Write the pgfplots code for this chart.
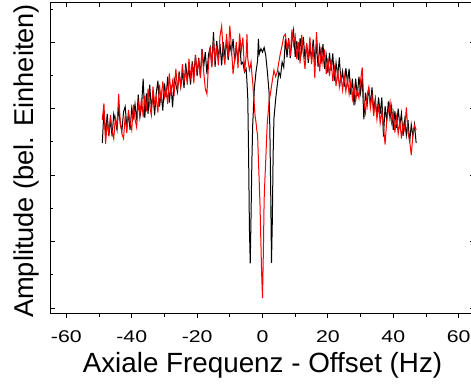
\documentclass[border=0pt]{standalone}
\usepackage{fontspec}
\setmainfont{Liberation Sans}
\usepackage{pgfplots}
\pgfplotsset{compat=1.18}
\begin{document}
\begin{tikzpicture}
\begin{axis}[name=ax,
  scale only axis, width=425pt, height=311pt,
  xmin=-65, xmax=65, ymin=-0.08, ymax=4.60,
  axis line style={line width=0.8pt},
  every tick/.style={line width=0.8pt, black},
  major tick length=5pt, minor tick length=3.5pt,
  xtick={-60,-40,...,60}, minor xtick={-50,-30,...,50},
  xtick pos=bottom, xtick align=outside,
  ytick={0,1,2,3,4}, minor ytick={0.5,1.5,2.5,3.5,4.5},
  yticklabels={}, ytick pos=both, ytick align=inside,
  /pgf/number format/assume math mode=true,
  xticklabel style={font=\fontsize{17}{20}\selectfont, xscale=1.25, anchor=base, yshift=-24.4pt},
  xlabel={Axiale Frequenz - Offset (Hz)},
  ylabel={Amplitude (bel. Einheiten)},
  xlabel style={font=\fontsize{27.8}{32}\selectfont, at={(axis description cs:0.5,-0.191)}, anchor=base},
  ylabel style={font=\fontsize{27.2}{32}\selectfont, at={(axis description cs:-0.04,0.49)}, anchor=base},
]
\addplot[black, line width=1pt] coordinates {
(-49,2.48)(-48.5,2.98)(-48,2.60)(-47.5,2.92)(-47,2.59)(-46.5,2.84)(-46,2.58)(-45.5,2.92)(-45,2.81)(-44.5,2.68)
(-44,3.02)(-43.5,2.77)(-43,2.67)(-42.5,2.95)(-42,3.03)(-41.5,2.73)(-41,2.91)(-40.5,2.68)(-40,3.01)(-39.5,2.87)
(-39,3.07)(-38.5,2.82)(-38,3.21)(-37.5,2.87)(-37,3.03)(-36.5,3.45)(-36,2.86)(-35.5,3.23)(-35,2.92)(-34.5,3.36)
(-34,3.00)(-33.5,3.23)(-33,2.90)(-32.5,3.23)(-32,3.42)(-31.5,3.03)(-31,3.23)(-30.5,2.97)(-30,3.38)(-29.5,3.17)
(-29,3.48)(-28.5,3.09)(-28,3.36)(-27.5,3.02)(-27,3.45)(-26.5,3.36)(-26,3.25)(-25.5,3.56)(-25,3.33)(-24.5,3.55)
(-24,3.31)(-23.5,3.68)(-23,3.45)(-22.5,3.61)(-22,3.36)(-21.5,3.71)(-21,3.50)(-20.5,3.81)(-20,3.49)(-19.5,3.76)
(-19,3.49)(-18.5,3.90)(-18,3.63)(-17.5,3.85)(-17,3.52)(-16.5,3.82)(-16,3.92)(-15.5,3.64)(-15,4.15)(-14.5,3.63)
(-14,4.02)(-13.5,3.76)(-13,3.97)(-12.5,3.65)(-12,4.00)(-11.5,3.79)(-11,4.04)(-10.5,3.73)(-10,3.97)(-9.5,3.84)
(-9,4.05)(-8.5,3.71)(-8,3.93)(-7.5,3.74)(-7,3.99)(-6.5,3.67)(-6,3.70)(-5.5,3.55)
(-5,3.60)(-4.75,3.40)(-4.5,3.15)(-4.25,2.30)(-4,1.20)(-3.75,0.67)(-3.5,1.40)(-3.25,2.20)(-3,2.75)(-2.5,3.30)
(-2,3.55)(-1.5,3.72)(-1.25,4.05)(-1,3.82)(-0.5,3.90)(0,3.85)(0.5,3.92)(1,3.80)(1.5,3.55)(2,3.25)
(2.25,2.70)(2.5,1.80)(2.75,0.68)(3,1.30)(3.25,2.30)(3.5,2.85)(4,3.13)(4.5,3.35)(5,3.55)(5.5,3.48)
(6,3.70)(6.5,3.62)(7,4.05)
(7.5,3.77)(8,4.06)(8.5,3.76)(9,4.02)(9.5,4.18)(10,3.78)(10.5,4.02)(11,3.73)(11.5,4.06)(12,3.85)
(12.5,4.08)(13,3.74)(13.5,3.98)(14,3.69)(14.5,3.92)(15,3.74)(15.5,4.04)(16,3.74)(16.5,3.94)(17,3.63)
(17.5,3.93)(18,3.73)(18.5,3.97)(19,3.60)(19.5,3.80)(20,3.54)(20.5,3.84)(21,3.57)(21.5,3.83)(22,3.42)
(22.5,3.69)(23,3.49)(23.5,3.77)(24,3.40)(24.5,3.56)(25,3.33)(25.5,3.61)(26,3.39)(26.5,3.60)(27,3.21)
(27.5,3.45)(28,3.05)(28.5,3.45)(29,3.19)(29.5,3.48)(30,3.24)(30.5,3.47)(31,2.84)(31.5,3.24)(32,3.05)
(32.5,3.32)(33,3.06)(33.5,3.32)(34,2.97)(34.5,3.15)(35,2.88)(35.5,3.17)(36,2.92)(36.5,3.17)(37,2.58)
(37.5,3.04)(38,2.81)(38.5,3.11)(39,2.85)(39.5,3.03)(40,2.68)(40.5,2.96)(41,2.71)(41.5,3.00)(42,2.75)
(42.5,2.93)(43,2.59)(43.5,2.83)(44,2.60)(44.5,2.83)(45,2.49)(45.5,2.76)(46,2.59)(46.5,2.76)(47,2.48)
};
\addplot[red, line width=1pt] coordinates {
(-49,2.83)(-48.5,3.08)(-48,2.47)(-47.5,2.79)(-47,2.62)(-46.5,2.90)(-46,2.67)(-45.5,2.55)(-45,2.86)(-44.5,2.73)
(-44,3.22)(-43.5,2.79)(-43,2.62)(-42.5,2.55)(-42,2.89)(-41.5,2.63)(-41,2.98)(-40.5,2.79)(-40,2.68)(-39.5,3.06)
(-39,2.84)(-38.5,2.72)(-38,3.09)(-37.5,2.91)(-37,3.16)(-36.5,2.87)(-36,3.20)(-35.5,2.96)(-35,3.30)(-34.5,3.04)
(-34,2.90)(-33.5,3.33)(-33,3.07)(-32.5,3.16)(-32,2.94)(-31.5,3.36)(-31,3.10)(-30.5,3.41)(-30,3.17)(-29.5,3.30)
(-29,3.07)(-28.5,3.53)(-28,3.20)(-27.5,3.41)(-27,3.24)(-26.5,3.60)(-26,3.28)(-25.5,3.51)(-25,3.34)(-24.5,3.67)
(-24,3.41)(-23.5,3.58)(-23,3.36)(-22.5,3.75)(-22,3.48)(-21.5,3.64)(-21,3.38)(-20.5,3.81)(-20,3.56)(-19.5,3.72)
(-19,3.46)(-18.5,3.88)(-18,3.56)(-17.5,3.30)(-17,3.22)(-16.5,3.68)(-16,3.93)(-15.5,3.62)(-15,4.02)(-14.5,3.72)
(-14,3.94)(-13.5,3.65)(-13,4.09)(-12.5,4.24)(-12,3.84)(-11.5,3.66)(-11,4.12)(-10.5,3.77)(-10,4.25)(-9.5,3.91)
(-9,3.52)(-8.5,3.75)(-8,4.00)(-7.5,3.61)(-7,4.13)(-6.5,3.87)(-6,4.07)(-5.5,3.55)(-5,3.80)(-4.75,4.12)
(-4.5,3.75)(-4,3.58)(-3.5,3.70)(-3.25,3.52)(-3,3.40)(-2.75,3.23)(-2.5,3.05)(-2.25,2.88)(-2,2.80)(-1.75,2.68)
(-1.5,2.60)(-1.25,2.23)(-1,1.90)(-0.75,1.53)(-0.5,1.00)(-0.25,0.50)(0,0.15)(0.25,0.80)(0.5,1.63)(0.75,1.95)
(1,2.23)(1.25,2.55)(1.5,2.82)(1.75,2.95)(2,3.10)(2.5,3.25)(3,3.42)(3.5,3.58)(4,3.48)(4.5,3.55)
(5,3.70)(5.5,3.84)(6,3.95)(6.5,4.09)(7,4.12)(7.5,3.91)(8,4.02)(8.5,3.79)(9,4.19)(9.5,3.96)
(10,4.09)(10.5,3.74)(11,4.00)(11.5,3.68)(12,4.11)(12.5,3.83)(13,3.60)(13.5,3.98)(14,3.74)(14.5,4.08)
(15,3.67)(15.5,3.95)(16,3.46)(16.5,4.15)(17,3.80)(17.5,3.56)(18,3.92)(18.5,3.68)(19,3.89)(19.5,3.52)
(20,3.76)(20.5,3.49)(21,3.74)(21.5,3.41)(22,3.62)(22.5,3.34)(23,3.58)(23.5,3.33)(24,3.51)(24.5,3.28)
(25,3.50)(25.5,3.26)(26,3.45)(26.5,3.22)(27,3.40)(27.5,3.15)(28,3.34)(28.5,3.11)(29,3.29)(29.5,3.16)
(30,3.42)(30.5,3.62)(31,3.11)(31.5,2.94)(32,3.20)(32.5,3.32)(33,3.01)(33.5,3.20)(34,2.89)(34.5,3.11)
(35,2.84)(35.5,3.06)(36,2.78)(36.5,2.97)(37,2.73)(37.5,2.46)(38,2.82)(38.5,2.96)(39,3.10)(39.5,2.79)
(40,2.94)(40.5,2.64)(41,2.87)(41.5,2.62)(42,2.82)(42.5,2.55)(43,2.78)(43.5,2.68)(44,3.02)(44.5,2.64)
(45,2.52)(45.5,2.30)(46,2.60)(46.5,2.75)(47,2.68)
};
\end{axis}
\begin{axis}[
  scale only axis, width=425pt, height=311pt,
  xmin=-65, xmax=65, ymin=-0.08, ymax=4.60,
  axis line style={line width=0.8pt},
  every tick/.style={line width=0.8pt, black},
  major tick length=5pt, minor tick length=5pt,
  xtick={-60,-40,...,60}, minor xtick={-50,-30,...,50},
  xtick pos=top, xtick align=inside, xticklabels={},
  ytick=\empty,
]
\end{axis}
\pgfresetboundingbox
\path[use as bounding box] ([xshift=-50pt,yshift=-69.7pt]ax.south west) rectangle ([xshift=421pt,yshift=2.3pt]ax.north west);
\end{tikzpicture}
\end{document}
